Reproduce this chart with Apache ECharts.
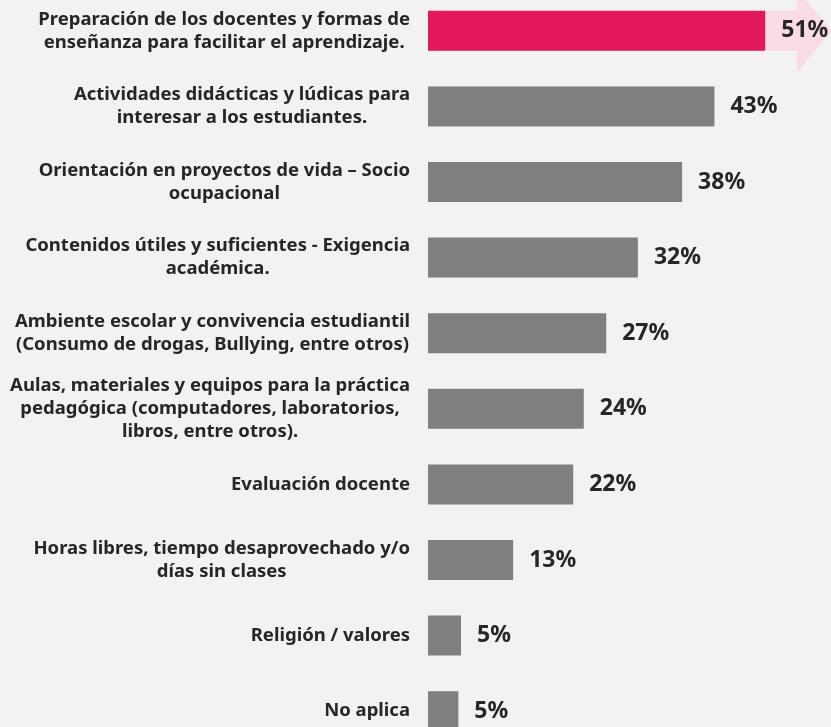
<!DOCTYPE html>
<html><head><meta charset="utf-8">
<script src="https://cdn.jsdelivr.net/npm/echarts@6/dist/echarts.min.js"></script>
<style>html,body{margin:0;padding:0;background:#F2F2F2}#c{width:831px;height:727px}</style>
</head><body><div id="c"></div>
<script>
const categories = [
  "Preparación de los docentes y formas de\nenseñanza para facilitar el aprendizaje.",
  "Actividades didácticas y lúdicas para\ninteresar a los estudiantes.",
  "Orientación en proyectos de vida – Socio\nocupacional",
  "Contenidos útiles y suficientes - Exigencia\nacadémica.",
  "Ambiente escolar y convivencia estudiantil\n(Consumo de drogas, Bullying, entre otros)",
  "Aulas, materiales y equipos para la práctica\npedagógica (computadores, laboratorios,\nlibros, entre otros).",
  "Evaluación docente",
  "Horas libres, tiempo desaprovechado y/o\ndías sin clases",
  "Religión / valores",
  "No aplica"
];
const values = [51.1, 43.4, 38.5, 31.8, 27.0, 23.6, 22.0, 12.9, 5.0, 4.6];
const valueLabels = ["51%", "43%", "38%", "32%", "27%", "24%", "22%", "13%", "5%", "5%"];
const arrowTip = 61.1;   // arrow tip (x value) behind top bar
const arrowHeadStart = 55.9;

const chart = echarts.init(document.getElementById('c'));
const FONT = "Noto Sans";
chart.setOption({
  backgroundColor: '#F2F2F2',
  animation: false,
  grid: {left: 428, top: -7, right: 7, bottom: -22, containLabel: false, outerBoundsMode: 'none'},
  xAxis: {type: 'value', min: 0, max: 60, show: false},
  yAxis: {
    type: 'category', inverse: true, data: categories,
    axisLine: {show: false}, axisTick: {show: false}, splitLine: {show: false},
    axisLabel: {
      margin: 18, align: 'right',
      formatter: v => v.split('\n').map(l => '{c|' + l + '}').join('\n'),
      rich: {c: {align: 'center', fontFamily: FONT, fontWeight: 'bold', fontSize: 18.5, color: '#262626', lineHeight: 23}}
    }
  },
  series: [
    {
      type: 'custom', silent: true, z: 1,
      data: [[arrowTip, 0]],
      renderItem: (params, api) => {
        const tip = api.coord([api.value(0), api.value(1)]);
        const start = api.coord([0, api.value(1)]);
        const head = api.coord([arrowHeadStart, api.value(1)]);
        const band = api.size([0, 1])[1];
        const bh = 20, hh = band * 0.555;
        const y = tip[1];
        return {type: 'polygon', shape: {points: [
          [start[0], y - bh], [head[0], y - bh], [head[0], y - hh], [tip[0], y],
          [head[0], y + hh], [head[0], y + bh], [start[0], y + bh]
        ]}, style: {fill: '#FADCE5'}};
      }
    },
    {
      type: 'bar', z: 2, barWidth: 40,
      data: values.map((v, i) => ({value: v, itemStyle: {color: i === 0 ? '#E3185B' : '#7F7F7F'}})),
      label: {
        show: true, position: 'right', distance: 16,
        formatter: p => valueLabels[p.dataIndex],
        fontFamily: FONT, fontWeight: 'bold', fontSize: 23, color: '#262626'
      }
    }
  ]
});
</script></body></html>
